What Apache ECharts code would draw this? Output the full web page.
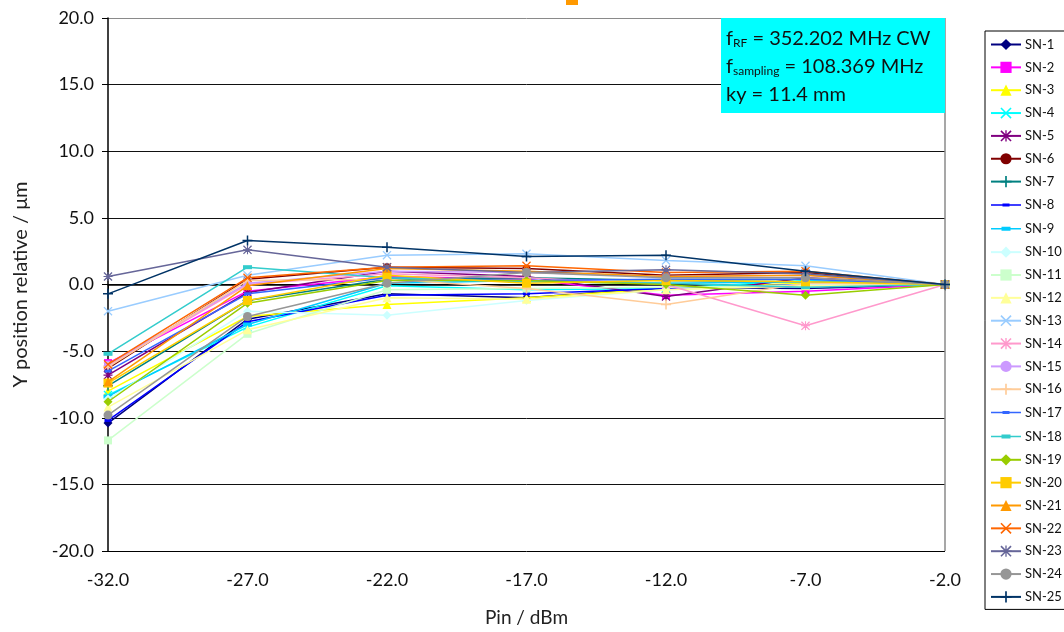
<!DOCTYPE html>
<html>
<head>
<meta charset="utf-8">
<title>Y position vs Pin</title>
<script src="https://cdn.jsdelivr.net/npm/echarts@6/dist/echarts.min.js"></script>
<style>
  html, body { margin: 0; padding: 0; background: #fff; }
  #chart { width: 1064px; height: 632px; }
</style>
</head>
<body>
<div id="chart"></div>
<script>
// Input power steps (dBm)
const pinValues = [-32, -27, -22, -17, -12, -7, -2];

// Relative Y position (µm) per sensor at each power step
const sn1  = [-10.4, -2.6, -0.7, -1.0, -0.2, -0.3, 0];
const sn2  = [-5.9, -0.5, 0.6, 0.4, -0.8, -0.5, 0];
const sn3  = [-8.0, -2.4, -1.5, -1.0, -0.3, 0.1, 0];
const sn4  = [-8.3, -3.2, -0.1, -0.4, -0.3, 0.3, 0];
const sn5  = [-6.8, -0.6, 1.0, 0.6, -0.9, 0.5, 0];
const sn6  = [-6.3, 0.4, 1.3, 1.2, 0.7, 0.9, 0];
const sn7  = [-7.6, -1.2, 0.4, 0.5, 0.3, 0.2, 0];
const sn8  = [-10.2, -2.8, -0.8, -0.7, -0.3, 0.0, 0];
const sn9  = [-8.4, -3.0, 0.1, 0.3, 0.1, 0.2, 0];
const sn10 = [-8.6, -2.0, -2.3, -1.2, -0.4, 0.0, 0];
const sn11 = [-11.7, -3.7, -0.4, -0.3, -0.2, -0.1, 0];
const sn12 = [-9.2, -3.4, -1.0, -1.1, -0.4, -0.1, 0];
const sn13 = [-2.0, 0.7, 2.2, 2.3, 1.8, 1.4, 0];
const sn14 = [-6.1, 0.0, 0.8, 0.5, 0.0, -3.1, 0];
const sn15 = [-6.0, 0.1, 1.0, 0.9, 0.6, 0.7, 0];
const sn16 = [-6.2, 0.3, 0.4, -0.3, -1.5, 0.1, 0];
const sn17 = [-6.5, -0.7, 0.5, 0.3, 0.4, 0.4, 0];
const sn18 = [-5.2, 1.3, 0.5, 0.2, 0.1, -0.2, 0];
const sn19 = [-8.8, -1.4, 0.3, 0.3, 0.0, -0.8, 0];
const sn20 = [-7.4, -1.2, 0.7, 0.1, 0.3, 0.2, 0];
const sn21 = [-7.3, -0.1, 1.2, 1.0, 0.6, 0.7, 0];
const sn22 = [-6.0, 0.5, 1.3, 1.4, 0.9, 1.0, 0];
const sn23 = [0.6, 2.6, 1.3, 0.9, 1.1, 0.8, 0];
const sn24 = [-9.8, -2.4, 0.1, 0.9, 0.5, 0.5, 0];
const sn25 = [-0.7, 3.3, 2.8, 2.1, 2.2, 1.0, 0];

const seriesNames = ['SN-1','SN-2','SN-3','SN-4','SN-5','SN-6','SN-7','SN-8','SN-9','SN-10',
  'SN-11','SN-12','SN-13','SN-14','SN-15','SN-16','SN-17','SN-18','SN-19','SN-20',
  'SN-21','SN-22','SN-23','SN-24','SN-25'];
const seriesValues = [sn1,sn2,sn3,sn4,sn5,sn6,sn7,sn8,sn9,sn10,sn11,sn12,sn13,sn14,sn15,
  sn16,sn17,sn18,sn19,sn20,sn21,sn22,sn23,sn24,sn25];
const seriesColors = ['#000080','#FF00FF','#FFFF00','#00FFFF','#800080','#800000','#008080',
  '#0000FF','#00CCFF','#CCFFFF','#CCFFCC','#FFFF99','#99CCFF','#FF99CC','#CC99FF','#FFCC99',
  '#3366FF','#33CCCC','#99CC00','#FFCC00','#FF9900','#FF6600','#666699','#969696','#003366'];

// Marker shapes
const PLUS = 'path://M4.25,0 L5.75,0 L5.75,4.25 L10,4.25 L10,5.75 L5.75,5.75 L5.75,10 L4.25,10 L4.25,5.75 L0,5.75 L0,4.25 L4.25,4.25 Z';
const CROSS = 'path://M0,1 L1,0 L5,4 L9,0 L10,1 L6,5 L10,9 L9,10 L5,6 L1,10 L0,9 L4,5 Z';
const STAR = 'path://M0,1 L1,0 L5,4 L9,0 L10,1 L6,5 L10,9 L9,10 L5,6 L1,10 L0,9 L4,5 Z ' +
             'M4.4,0 L5.6,0 L5.6,4.4 L10,4.4 L10,5.6 L5.6,5.6 L5.6,10 L4.4,10 L4.4,5.6 L0,5.6 L0,4.4 L4.4,4.4 Z';
const DASH_S = 'path://M0,0 L7,0 L7,3 L0,3 Z';
const DASH_L = 'path://M0,0 L9,0 L9,4 L0,4 Z';
const markers = [
  ['diamond', 9], ['rect', 8], ['triangle', 9], [CROSS, 9], [STAR, 9],
  ['circle', 8], [PLUS, 10], [DASH_S, 7], [DASH_L, 9], ['diamond', 9],
  ['rect', 8], ['triangle', 9], [CROSS, 9], [STAR, 9], ['circle', 8],
  [PLUS, 10], [DASH_S, 7], [DASH_L, 9], ['diamond', 9], ['rect', 9],
  ['triangle', 9], [CROSS, 9], [STAR, 9], ['circle', 9], [PLUS, 10]
];

// Legend glyphs (30x14 box) for the dash-marker series: line with a short bar on it.
// Tiny corner specks fix the glyph's bounding box so it is not stretched.
const BOX = 'M0,0 L0.01,0 L0,0.01 Z M30,14 L29.99,14 L30,13.99 Z ';
const LEG_DASH_S = 'path://' + BOX + 'M0,6.25 L30,6.25 L30,7.75 L0,7.75 Z M11.5,5.5 L18.5,5.5 L18.5,8.5 L11.5,8.5 Z';
const LEG_DASH_L = 'path://' + BOX + 'M0,6.25 L30,6.25 L30,7.75 L0,7.75 Z M10.5,5 L19.5,5 L19.5,9 L10.5,9 Z';
const legendIcons = { 'SN-8': LEG_DASH_S, 'SN-17': LEG_DASH_S, 'SN-9': LEG_DASH_L, 'SN-18': LEG_DASH_L };

const FONT = 'Lato, "DejaVu Sans", sans-serif';
const pinLabels = pinValues.map(v => v.toFixed(1));

const series = seriesNames.map((name, i) => ({
  name: name,
  type: 'line',
  data: seriesValues[i],
  symbol: markers[i][0],
  symbolSize: markers[i][1],
  symbolKeepAspect: true,
  showAllSymbol: true,
  lineStyle: { color: seriesColors[i], width: 1.5 },
  itemStyle: { color: seriesColors[i] },
  emphasis: { disabled: true },
  animation: false,
  z: 2 + i
}));

const legendData = seriesNames.map(n => legendIcons[n] ? { name: n, icon: legendIcons[n] } : { name: n });

const chart = echarts.init(document.getElementById('chart'), null, { renderer: 'canvas' });

chart.setOption({
  backgroundColor: '#ffffff',
  animation: false,
  grid: { left: 108, right: 119, top: 18, bottom: 81, containLabel: false },
  xAxis: {
    type: 'category',
    data: pinLabels,
    boundaryGap: false,
    name: 'Pin / dBm',
    nameLocation: 'middle',
    nameGap: 57,
    nameTextStyle: { fontFamily: FONT, fontSize: 19, color: '#222' },
    axisLine: { lineStyle: { color: '#000', width: 1.5 } },
    axisTick: { show: true, inside: false, length: 6, lineStyle: { color: '#000' } },
    axisLabel: { fontFamily: FONT, fontSize: 18, color: '#111', margin: 20 },
    splitLine: { show: false }
  },
  yAxis: {
    type: 'value',
    min: -20,
    max: 20,
    interval: 5,
    name: 'Y position relative / μm',
    nameLocation: 'middle',
    nameRotate: 90,
    nameGap: 77,
    nameTextStyle: { fontFamily: FONT, fontSize: 20, color: '#222' },
    axisLine: { show: true, lineStyle: { color: '#000', width: 1.5 } },
    axisTick: { show: true, inside: false, length: 6, lineStyle: { color: '#000' } },
    axisLabel: {
      fontFamily: FONT, fontSize: 18, color: '#111', margin: 14,
      formatter: v => v.toFixed(1)
    },
    splitLine: {
      show: true,
      lineStyle: {
        color: ['#000','#111','#111','#111','#111','#111','#111','#111','#8a8a8a'],
        width: 1
      }
    }
  },
  legend: {
    orient: 'vertical',
    left: 985,
    top: 31,
    padding: [7, 30, 6, 5],
    itemWidth: 30,
    itemHeight: 14,
    itemGap: 9.85,
    borderColor: '#000',
    borderWidth: 1,
    backgroundColor: '#fff',
    textStyle: { fontFamily: FONT, fontSize: 13, color: '#111', padding: [0, 0, 0, -1] },
    data: legendData
  },
  graphic: [
    // right border of the plot area
    {
      type: 'line', z: 1,
      shape: { x1: 945, y1: 18, x2: 945, y2: 551 },
      style: { stroke: '#8a8a8a', lineWidth: 1.5 }
    },
    // measurement conditions box
    {
      type: 'rect', z: 50,
      shape: { x: 721, y: 18, width: 224, height: 95 },
      style: { fill: '#00FFFF' }
    },
    {
      type: 'text', z: 51, left: 726, top: 25,
      style: {
        text: 'f{s|RF} = 352.202 MHz CW\nf{s|sampling} = 108.369 MHz\nky = 11.4 mm',
        fontFamily: FONT, fontSize: 20, lineHeight: 28, fill: '#111',
        rich: {
          s: { fontFamily: FONT, fontSize: 12, fill: '#111', padding: [9, 0, 0, 0] }
        }
      }
    },
    // small orange tab at the top edge
    {
      type: 'rect', z: 50,
      shape: { x: 566, y: 0, width: 12, height: 5 },
      style: { fill: '#FF9900' }
    }
  ],
  series: series
});
</script>
</body>
</html>
